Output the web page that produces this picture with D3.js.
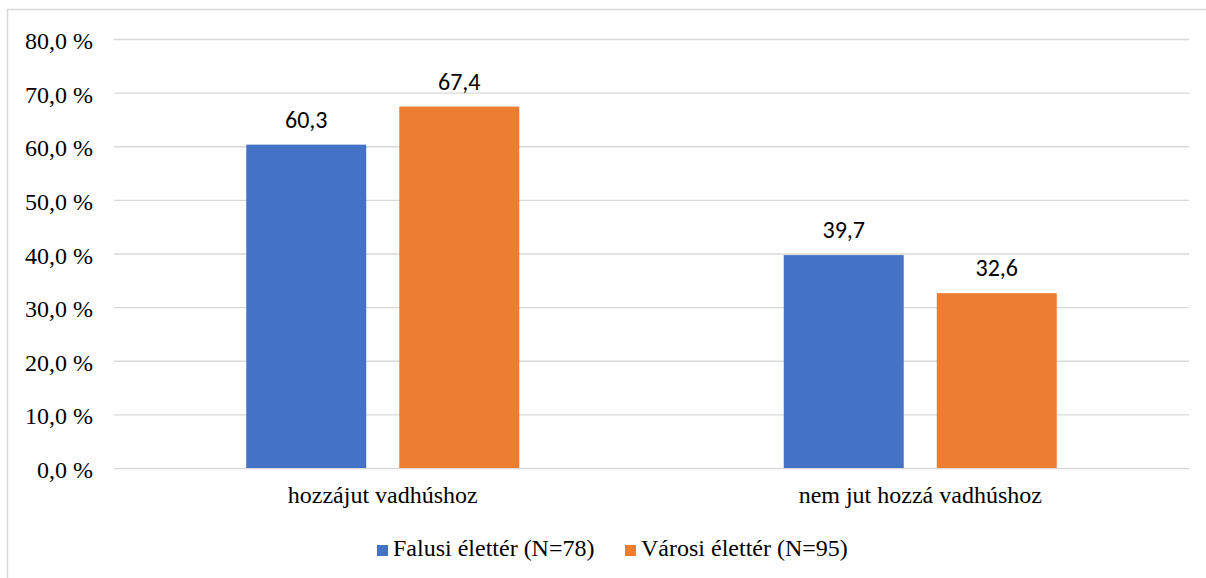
<!DOCTYPE html>
<html>
<head>
<meta charset="utf-8">
<script src="https://cdn.jsdelivr.net/npm/d3@7"></script>
<style>
  body { margin: 0; background: #fff; }
  svg { display: block; }
</style>
</head>
<body>
<svg></svg>
<script>
// data
var categories = ['hozzájut vadhúshoz', 'nem jut hozzá vadhúshoz'];
var series = ['Falusi élettér (N=78)', 'Városi élettér (N=95)'];
var falusi = [60.3, 39.7];
var varosi = [67.4, 32.6];
var y_ticks = [0, 10, 20, 30, 40, 50, 60, 70, 80];
var colors = ['#4472C4', '#ED7D31'];

var svg_width = 1206,
  svg_height = 578,
  plot_left = 114,
  plot_right = 1189,
  plot_top = 39,
  plot_bottom = 468;

// no generic fallback here, it overrides the named face in this browser
var serif_font = "'Liberation Serif', 'Times New Roman'";
var label_font = "'Carlito'";

var svg = d3.select('svg')
  .attr('width', svg_width)
  .attr('height', svg_height);

// outer frame of the chart area
svg.append('rect')
  .attr('x', 7.5)
  .attr('y', 9.5)
  .attr('width', 1230)
  .attr('height', 600)
  .attr('fill', 'none')
  .attr('stroke', '#d9d9d9')
  .attr('stroke-width', 1.5);

var y = d3.scaleLinear()
  .domain([0, 80])
  .range([plot_bottom, plot_top]);

var x0 = d3.scaleBand()
  .domain(categories)
  .range([plot_left, plot_right])
  .padding(0);

var group_width = 273;
var x1 = d3.scaleBand()
  .domain(series)
  .range([0, group_width])
  .paddingInner(0.216)
  .paddingOuter(0);

// gridlines + y labels
var yAxis = d3.axisLeft(y)
  .tickValues(y_ticks)
  .tickSize(-(plot_right - plot_left))
  .tickPadding(21)
  .tickFormat(function(d) { return d3.format('.1f')(d).replace('.', ',') + ' %'; });

var gy = svg.append('g')
  .attr('transform', 'translate(' + plot_left + ',0)')
  .call(yAxis)
  .attr('font-family', null)
  .attr('font-size', null);
gy.select('.domain').remove();
gy.selectAll('.tick line')
  .attr('stroke', '#d9d9d9')
  .attr('stroke-width', 1.3);
gy.selectAll('.tick text')
  .attr('fill', '#000')
  .attr('dy', '0.4em')
  .attr('font-size', 24)
  .style('font-family', serif_font);

var rows = categories.map(function(c, i) {
  return { cat: c, values: [falusi[i], varosi[i]] };
});

var groups = svg.selectAll('.cat')
  .data(rows)
  .enter()
  .append('g')
  .attr('class', 'cat')
  .attr('transform', function(d) {
    return 'translate(' + (x0(d.cat) + (x0.bandwidth() - group_width) / 2) + ',0)';
  });

groups.selectAll('rect')
  .data(function(d) {
    return d.values.map(function(v, j) { return { s: series[j], v: v, j: j }; });
  })
  .enter()
  .append('rect')
  .attr('x', function(d) { return x1(d.s); })
  .attr('y', function(d) { return y(d.v); })
  .attr('width', x1.bandwidth())
  .attr('height', function(d) { return plot_bottom - y(d.v); })
  .attr('fill', function(d) { return colors[d.j]; });

groups.selectAll('.val')
  .data(function(d) {
    return d.values.map(function(v, j) { return { s: series[j], v: v }; });
  })
  .enter()
  .append('text')
  .attr('class', 'val')
  .attr('x', function(d) { return x1(d.s) + x1.bandwidth() / 2; })
  .attr('y', function(d) { return y(d.v) - 17; })
  .attr('text-anchor', 'middle')
  .attr('font-size', 24)
  .style('font-family', label_font)
  .attr('fill', '#000')
  .text(function(d) { return d3.format('.1f')(d.v).replace('.', ','); });

// category labels
var xAxis = d3.axisBottom(x0).tickSize(0).tickPadding(18);
var gx = svg.append('g')
  .attr('transform', 'translate(0,' + plot_bottom + ')')
  .call(xAxis)
  .attr('font-family', null)
  .attr('font-size', null);
gx.select('.domain').remove();
gx.selectAll('.tick text')
  .attr('fill', '#000')
  .attr('font-size', 24)
  .style('font-family', serif_font);

// legend
var legend_x = [377, 625];
var legend = svg.selectAll('.legend')
  .data(series)
  .enter()
  .append('g')
  .attr('class', 'legend')
  .attr('transform', function(d, i) { return 'translate(' + legend_x[i] + ',545)'; });
legend.append('rect')
  .attr('width', 11)
  .attr('height', 11)
  .attr('fill', function(d, i) { return colors[i]; });
legend.append('text')
  .attr('x', 16)
  .attr('y', 10.5)
  .attr('font-size', 24)
  .style('font-family', serif_font)
  .attr('fill', '#000')
  .text(function(d) { return d; });
</script>
</body>
</html>
